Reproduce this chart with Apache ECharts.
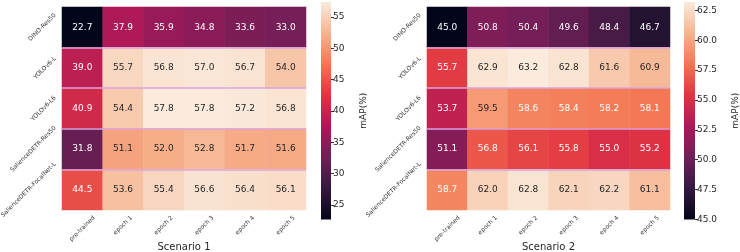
<!DOCTYPE html>
<html>
<head>
<meta charset="utf-8">
<script src="https://cdn.jsdelivr.net/npm/echarts@6/dist/echarts.min.js"></script>
<style>
  html, body { margin: 0; padding: 0; background: #fff; }
  #chart { width: 740px; height: 252px; }
</style>
</head>
<body>
<div id="chart"></div>
<script>
// 行/列
const rows = ['DINO-Res50', 'YOLOv6-L', 'YOLOv6-L6', 'SalienceDETR-Res50', 'SalienceDETR-FocalNet-L']
const cols = ['pre-trained', 'epoch 1', 'epoch 2', 'epoch 3', 'epoch 4', 'epoch 5']

// mAP(%) 数据
const scenario1 = [
  [22.7, 37.9, 35.9, 34.8, 33.6, 33.0],
  [39.0, 55.7, 56.8, 57.0, 56.7, 54.0],
  [40.9, 54.4, 57.8, 57.8, 57.2, 56.8],
  [31.8, 51.1, 52.0, 52.8, 51.7, 51.6],
  [44.5, 53.6, 55.4, 56.6, 56.4, 56.1]
]
const scenario2 = [
  [45.0, 50.8, 50.4, 49.6, 48.4, 46.7],
  [55.7, 62.9, 63.2, 62.8, 61.6, 60.9],
  [53.7, 59.5, 58.6, 58.4, 58.2, 58.1],
  [51.1, 56.8, 56.1, 55.8, 55.0, 55.2],
  [58.7, 62.0, 62.8, 62.1, 62.2, 61.1]
]

// 色条范围和刻度
const range1 = [22.7, 57.4]
const range2 = [45.0, 63.2]
const ticks1 = [25, 30, 35, 40, 45, 50, 55]
const ticks2 = [45.0, 47.5, 50.0, 52.5, 55.0, 57.5, 60.0, 62.5]

// rocket 色带
const rocket = ['#03051a', '#35193e', '#701f57', '#ad1759', '#e13342', '#f37651', '#f6b48f', '#faebdd']

const font = 'DejaVu Sans'
const textColor = '#262626'
const tickFont = 6

function cells(matrix, range) {
  let out = []
  matrix.forEach((row, r) => {
    row.forEach((v, c) => {
      let t = (v - range[0]) / (range[1] - range[0])
      out.push({ value: [c, r, v], label: { color: t > 0.78 ? textColor : '#ffffff' } })
    })
  })
  return out
}

function heatAxes(gridIndex, title) {
  return {
    x: {
      type: 'category',
      gridIndex: gridIndex,
      data: cols,
      axisLine: { show: false },
      axisTick: { alignWithLabel: true, length: 3, lineStyle: { color: '#333' } },
      // 标签用graphic画，模仿matplotlib的旋转对齐
      axisLabel: { show: false },
      splitLine: { show: false },
      name: title,
      nameLocation: 'middle',
      nameGap: 32,
      nameMoveOverlap: false,
      nameTextStyle: { fontSize: 10, color: textColor, fontFamily: font }
    },
    y: {
      type: 'category',
      gridIndex: gridIndex,
      data: rows,
      inverse: true,
      z: 5,
      axisLine: { show: false },
      axisTick: { alignWithLabel: true, length: 3, lineStyle: { color: '#333' } },
      axisLabel: { show: false },
      // 行之间的分隔线
      splitLine: {
        show: true,
        interval: 0,
        showMinLine: false,
        showMaxLine: false,
        lineStyle: { color: '#dca3dc', width: 1.5 }
      }
    }
  }
}

function barAxes(gridIndex, range, ticks, gap, digits) {
  return {
    x: {
      type: 'category',
      gridIndex: gridIndex,
      data: [''],
      show: false
    },
    y: {
      type: 'value',
      gridIndex: gridIndex,
      position: 'right',
      min: range[0],
      max: range[1],
      axisLine: { show: false },
      splitLine: { show: false },
      axisTick: { show: true, length: 3, customValues: ticks, lineStyle: { color: '#333' } },
      axisLabel: {
        customValues: ticks,
        fontSize: 9,
        margin: 2,
        color: textColor,
        fontFamily: font,
        formatter: v => v.toFixed(digits)
      },
      name: 'mAP(%)',
      nameLocation: 'middle',
      nameRotate: 90,
      nameGap: gap,
      nameMoveOverlap: false,
      nameTextStyle: { fontSize: 9, color: textColor, fontFamily: font }
    }
  }
}

function colorBar(xi, yi, range) {
  return {
    type: 'custom',
    xAxisIndex: xi,
    yAxisIndex: yi,
    silent: true,
    data: [[0, range[0], range[1]]],
    encode: { x: 0, y: [1, 2] },
    renderItem(params, api) {
      let p0 = api.coord([0, api.value(1)])
      let p1 = api.coord([0, api.value(2)])
      let w = api.size([1, 0])[0]
      return {
        type: 'rect',
        shape: { x: p0[0] - w / 2, y: p1[1], width: w, height: p0[1] - p1[1] },
        style: {
          fill: new echarts.graphic.LinearGradient(0, 1, 0, 0,
            rocket.map((c, i) => ({ offset: i / (rocket.length - 1), color: c })))
        }
      }
    }
  }
}

let h1 = heatAxes(0, 'Scenario 1')
let b1 = barAxes(1, range1, ticks1, 28, 0)
let h2 = heatAxes(2, 'Scenario 2')
let b2 = barAxes(3, range2, ticks2, 36, 1)

let grids = [
  { left: 62, top: 7, width: 244, height: 203, outerBoundsMode: 'none' },
  { left: 321, top: 2, width: 10, height: 217.5, outerBoundsMode: 'none' },
  { left: 427, top: 7, width: 243, height: 203, outerBoundsMode: 'none' },
  { left: 684, top: 2, width: 11, height: 217.5, outerBoundsMode: 'none' }
]

let chart = echarts.init(document.getElementById('chart'))
let option = {
  animation: false,
  grid: grids,
  xAxis: [h1.x, b1.x, h2.x, b2.x],
  yAxis: [h1.y, b1.y, h2.y, b2.y],
  visualMap: [
    { show: false, type: 'continuous', seriesIndex: 0, dimension: 2, min: range1[0], max: range1[1], inRange: { color: rocket } },
    { show: false, type: 'continuous', seriesIndex: 2, dimension: 2, min: range2[0], max: range2[1], inRange: { color: rocket } }
  ],
  series: [
    {
      type: 'heatmap',
      xAxisIndex: 0,
      yAxisIndex: 0,
      data: cells(scenario1, range1),
      label: { show: true, fontSize: 9, fontFamily: font, formatter: p => p.value[2].toFixed(1) },
      emphasis: { disabled: true }
    },
    colorBar(1, 1, range1),
    {
      type: 'heatmap',
      xAxisIndex: 2,
      yAxisIndex: 2,
      data: cells(scenario2, range2),
      label: { show: true, fontSize: 9, fontFamily: font, formatter: p => p.value[2].toFixed(1) },
      emphasis: { disabled: true }
    },
    colorBar(3, 3, range2)
  ]
}
chart.setOption(option)

// 旋转45°的刻度标签：按旋转后的包围盒对齐（y轴右对齐居中，x轴顶对齐居中）
let ctx = document.createElement('canvas').getContext('2d')
ctx.font = tickFont + 'px "' + font + '"'
const diag = t => (ctx.measureText(t).width + tickFont * 1.1) * Math.SQRT1_2
const pad = 4.5
let labels = []
;[0, 2].forEach(ai => {
  let g = grids[ai]
  let axisX = g.left
  let axisY = g.top + g.height
  rows.forEach((name, r) => {
    let p = chart.convertToPixel({ xAxisIndex: ai, yAxisIndex: ai }, [0, r])
    labels.push({
      type: 'text', x: axisX - pad - diag(name) / 2, y: p[1], rotation: Math.PI / 4, silent: true,
      style: { text: name, font: tickFont + 'px "' + font + '"', fill: '#333', align: 'center', verticalAlign: 'middle' }
    })
  })
  cols.forEach((name, c) => {
    let p = chart.convertToPixel({ xAxisIndex: ai, yAxisIndex: ai }, [c, 0])
    labels.push({
      type: 'text', x: p[0], y: axisY + pad + diag(name) / 2, rotation: Math.PI / 4, silent: true,
      style: { text: name, font: tickFont + 'px "' + font + '"', fill: '#333', align: 'center', verticalAlign: 'middle' }
    })
  })
})
chart.setOption({ graphic: labels })
</script>
</body>
</html>
